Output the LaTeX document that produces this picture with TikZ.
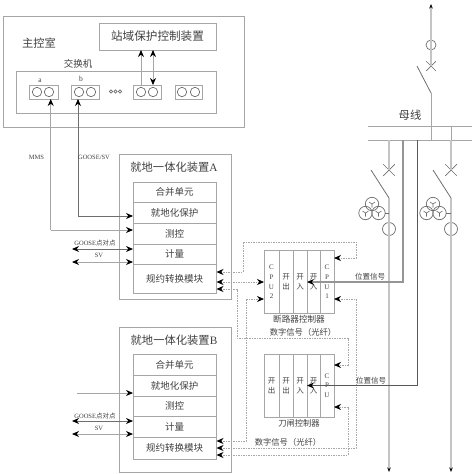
\documentclass[tikz,border=0pt]{standalone}
\usepackage{fontspec}
\setmainfont{Liberation Serif}
\newfontfamily\cjk{Noto Sans CJK SC}
\usetikzlibrary{arrows.meta,shapes.misc}
\definecolor{ink}{HTML}{404040}
\definecolor{edge}{HTML}{A6A6A6}
\definecolor{feeder}{HTML}{C4C4C4}
\definecolor{darkwire}{HTML}{6E6E6E}
\tikzset{
  frame/.style={draw=edge,line width=0.9pt,inner sep=0pt,outer sep=0pt},
  cell/.style={frame,text=ink,minimum width=83pt,font=\fontsize{9.5}{11}\cjk},
  slot/.style={frame,text=ink,minimum height=63pt,align=center,font=\fontsize{7.5}{10}\cjk},
  cpuslot/.style={slot,font=\fontsize{7}{9.6}\selectfont},
  caption/.style={text=ink,inner sep=0pt,font=\fontsize{9.5}{11}\cjk},
  tiny/.style={text=ink,inner sep=0pt,font=\fontsize{6.5}{8}\selectfont},
  ring/.style={circle,draw=darkwire,line width=0.7pt,inner sep=0pt,outer sep=0pt},
  cross/.style={cross out,draw=darkwire,line width=0.7pt,inner sep=0pt,minimum size=9pt},
  wire/.style={draw=edge,line width=0.9pt},
  fibre/.style={draw=edge,line width=0.8pt,dash pattern=on 1.5pt off 1pt},
  hot/.style={draw=darkwire,line width=0.9pt},
  feed/.style={draw=feeder,line width=1.2pt},
  blade/.style={draw=darkwire,line width=0.8pt},
  >={Stealth[length=7pt,width=6pt,color=black]}
}
\begin{document}
\begin{tikzpicture}[x=1pt,y=-1pt]
\useasboundingbox (0,0) rectangle (474,474);
% --- control room
\node[frame,minimum width=241pt,minimum height=111pt] (room) at (123.5,71.5) {};
\node[frame,text=ink,minimum width=117pt,minimum height=27pt,font=\fontsize{11.6}{13}\cjk] (station) at (157.5,36.5) {站域保护控制装置};
\node[caption,font=\fontsize{11.3}{13}\cjk] (roomname) at (39,43) {主控室};
\node[caption] (switchname) at (78,64) {交换机};
\node[frame,minimum width=200pt,minimum height=42pt] (switch) at (116,92) {};
\foreach \n/\x/\w/\p/\q in {a/43.5/29/37/49,b/85/28/79/91,c/147/28/141/153,d/188.5/27/182/195} {
  \node[frame,minimum width=\w pt,minimum height=14pt] (port\n) at (\x,92) {};
  \node[ring,minimum size=9.4pt] (\n1) at (\p,92) {};
  \node[ring,minimum size=9.4pt] (\n2) at (\q,92) {};
}
\node[tiny,font=\fontsize{7.5}{8}\selectfont] (namea) at (40,80.5) {a};
\node[tiny,font=\fontsize{7.5}{8}\selectfont] (nameb) at (81,79) {b};
\foreach \i/\x in {1/111,2/115.5,3/120} {\node[ring,minimum size=3.2pt] (dot\i) at (\x,91.5) {};}
\draw[wire,->] (c1 |- portc.north) -- (c1 |- station.south);
\draw[wire,<->] (c2 |- station.south) -- (c2 |- portc.north);
% --- device A
\node[frame,minimum width=112pt,minimum height=145pt] (devA) at (175,226.5) {};
\node[caption,font=\fontsize{11.3}{13}\cjk] (nameA) at (174,167) {就地一体化装置{\rmfamily A}};
\node[cell,minimum height=20pt] (aMerge) at (174.5,192) {合并单元};
\node[cell,minimum height=21pt] (aProt) at (174.5,212.5) {就地化保护};
\node[cell,minimum height=21pt] (aTest) at (174.5,233.5) {测控};
\node[cell,minimum height=20pt] (aMeter) at (174.5,254) {计量};
\node[cell,minimum height=29pt] (aConv) at (174.5,278.5) {规约转换模块};
% --- device B
\node[frame,minimum width=112pt,minimum height=145pt] (devB) at (175,399.5) {};
\node[caption,font=\fontsize{11.3}{13}\cjk] (nameB) at (174,340) {就地一体化装置{\rmfamily B}};
\node[cell,minimum height=21pt] (bMerge) at (174.5,364.5) {合并单元};
\node[cell,minimum height=21pt] (bProt) at (174.5,385.5) {就地化保护};
\node[cell,minimum height=20pt] (bTest) at (174.5,406) {测控};
\node[cell,minimum height=21pt] (bMeter) at (174.5,426.5) {计量};
\node[cell,minimum height=22pt] (bConv) at (174.5,448) {规约转换模块};
% --- links to the switch and the left side
\coordinate (mmsknee) at (50.7,230);
\coordinate (gooseknee) at (78,216);
\draw[wire,->] (mmsknee) -- (mmsknee |- porta.south);
\draw[wire,->] (mmsknee) -- (mmsknee -| aTest.west);
\draw[hot,->] (gooseknee) -- (gooseknee |- portb.south);
\draw[hot,->] (gooseknee) -- (gooseknee -| aProt.west);
\node[tiny] (mms) at (36.5,157) {MMS};
\node[tiny] (goosesv) at (94,157) {GOOSE/SV};
\coordinate (aGoose) at (72,249);
\coordinate (aSv) at (72,262);
\coordinate (bFeed) at (77,393);
\coordinate (bGoose) at (72,421);
\coordinate (bSv) at (72,434);
\draw[hot,<->] (aGoose) -- (aGoose -| aMeter.west);
\draw[wire,<->] (aSv) -- (aSv -| aMeter.west);
\draw[wire,->] (bFeed) -- (bFeed -| bProt.west);
\draw[hot,<->] (bGoose) -- (bGoose -| bMeter.west);
\draw[wire,<->] (bSv) -- (bSv -| bMeter.west);
\node[tiny] (goosea) at (95,243) {GOOSE{\cjk 点对点}};
\node[tiny] (sva) at (99,255) {SV};
\node[tiny] (gooseb) at (95,416.5) {GOOSE{\cjk 点对点}};
\node[tiny] (svb) at (99,428) {SV};
% --- breaker controller
\node[cpuslot,minimum width=15pt] (bk1) at (271.5,282) {C\\P\\U\\2};
\node[slot,minimum width=14pt] (bk2) at (286,282) {开\\出};
\node[slot,minimum width=14pt] (bk3) at (300,282) {开\\入};
\node[slot,minimum width=13pt] (bk4) at (313.5,282) {开\\入};
\node[cpuslot,minimum width=14pt] (bk5) at (327,282) {C\\P\\U\\1};
\node[caption,font=\fontsize{8.6}{10}\cjk] (bkname) at (299,319) {断路器控制器};
\node[caption,font=\fontsize{8.3}{10}\cjk] (fibrea) at (303,332) {数字信号（光纤）};
% --- disconnector controller
\node[slot,minimum width=15pt] (kn1) at (271.5,385.5) {开\\出};
\node[slot,minimum width=14pt] (kn2) at (286,385.5) {开\\出};
\node[slot,minimum width=14pt] (kn3) at (300,385.5) {开\\入};
\node[slot,minimum width=13pt] (kn4) at (313.5,385.5) {开\\入};
\node[cpuslot,minimum width=14pt] (kn5) at (327,385.5) {C\\P\\U};
\node[caption,font=\fontsize{8.3}{10}\cjk] (knname) at (299,423) {刀闸控制器};
\node[caption,font=\fontsize{8.3}{10}\cjk] (fibreb) at (288,442) {数字信号（光纤）};
% --- fibre links
\coordinate (aIn1) at (216.5,272);
\coordinate (aIn2) at (216.5,282);
\coordinate (aIn3) at (216.5,289);
\coordinate (bIn1) at (216.5,441);
\coordinate (bIn2) at (216.5,448);
\coordinate (bIn3) at (216.5,455);
\coordinate (bkIn1) at (334,258);
\coordinate (bkIn2) at (264,299);
\coordinate (bkIn3) at (334,299);
\coordinate (knIn1) at (334,365);
\coordinate (knIn2) at (334,407);
\draw[fibre,<->] (aIn1) -| (243,242) -| (356,258) -- (bkIn1);
\draw[fibre,<->] (aIn2) -- (bk1.west |- aIn2);
\draw[fibre,<->] (aIn3) -| (237,338) -| (348,365) -- (knIn1);
\draw[fibre,<->] (bIn1) -| (246,299) -- (bkIn2);
\draw[fibre,<->] (bIn2) -| (356,299) -- (bkIn3);
\draw[fibre,<->] (bIn3) -| (348,407) -- (knIn2);
% --- bus bars
\coordinate (busa) at (368,126);
\coordinate (busb) at (368,140);
\draw[wire] (busa) -- (472,126);
\draw[wire] (busb) -- (472,140);
\node[caption,font=\fontsize{11.3}{13}\cjk] (busname) at (410,115) {母线};
% --- incoming bay
\coordinate (intop) at (431,4);
\coordinate (inhinge) at (431,93);
\node[ring,minimum size=10pt] (inct) at (431,45) {};
\node[cross] (inx) at (431,66) {};
\draw[feed,<-,>={Stealth[length=4.5pt,width=3.5pt,color=black]}] (intop) -- (inx.center);
\draw[blade] (417,66) -- (inhinge);
\draw[wire] (inhinge) -- (inhinge |- busb);
\draw[wire] (451,126) -- (451,140);
% --- feeder bays
\foreach \n/\x in {L/389,R/451} {
  \node[cross,minimum size=11pt] (x\n) at (\x,170) {};
  \coordinate (hinge\n) at (\x,198);
  \node[ring,minimum size=13pt] (ct\n) at (\x,229) {};
  \coordinate (end\n) at (\x,472);
  \draw[feed] (\x,140) -- (x\n.center);
  \draw[blade] (\x-18,170) -- (hinge\n);
  \draw[feed,->,>={Stealth[length=4.5pt,width=3.5pt,color=black]}] (hinge\n) -- (end\n);
}
\foreach \n/\x in {L/372,R/433} {
  \node[ring,minimum size=13.4pt] (pt\n a) at (\x,204) {};
  \node[ring,minimum size=13.4pt] (pt\n b) at (\x-6.5,213) {};
  \node[ring,minimum size=13.4pt] (pt\n c) at (\x+6.5,213) {};
  \foreach \m in {a,b,c} {
    \draw[blade,line width=0.6pt] (pt\n\m.center) -- +(0,3.5) (pt\n\m.center) -- +(-3,-2) (pt\n\m.center) -- +(3,-2);
  }
}
\draw[blade] (ptLc.east) -- (ptLc.east -| ctL);
\draw[blade] (ptRc.east) -- (ptRc.east -| ctR);
% --- position signals
\coordinate (tapa) at (403,140);
\coordinate (tapb) at (417,140);
\draw[hot,draw=edge!70!darkwire,line width=1.1pt,->] (tapa) |- (bk4.west);
\draw[hot,line width=1pt,draw=darkwire!80!black,->] (tapb) |- (kn4.west);
\node[caption,font=\fontsize{7.5}{9}\cjk] (siga) at (370,277) {位置信号};
\node[caption,font=\fontsize{7.5}{9}\cjk] (sigb) at (371,381) {位置信号};
\end{tikzpicture}
\end{document}
